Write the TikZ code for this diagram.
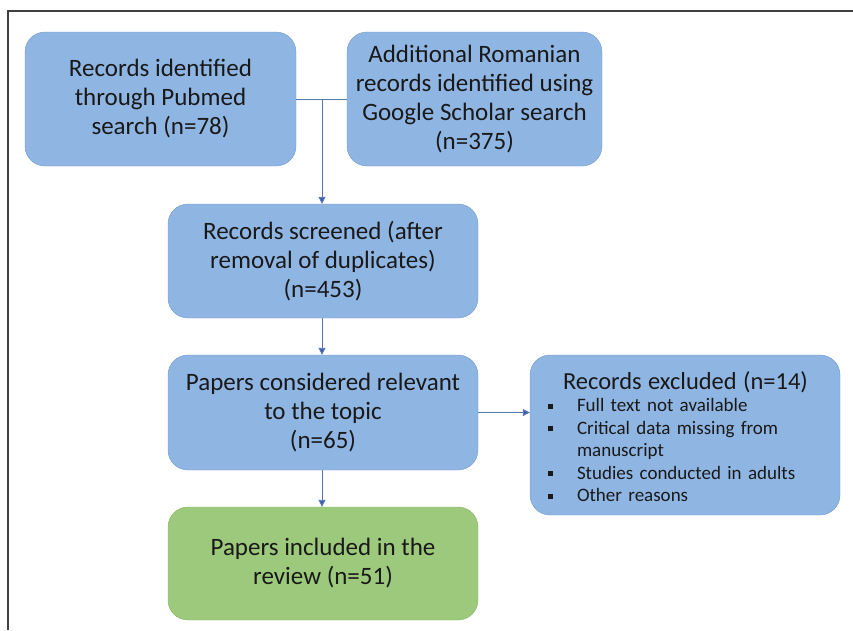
\documentclass[tikz,border=0pt]{standalone}
\usepackage{fontspec}
\setmainfont{Carlito}
\usepackage{amssymb}
\usetikzlibrary{arrows.meta}

\definecolor{boxblue}{HTML}{8FB5E2}
\definecolor{edgeblue}{HTML}{7099CE}
\definecolor{boxgreen}{HTML}{9CC97C}
\definecolor{edgegreen}{HTML}{86B466}
\definecolor{linkblue}{HTML}{5676AE}
\definecolor{tipblue}{HTML}{3F5DB8}

\tikzset{
  stagebox/.style={draw=edgeblue, fill=boxblue, rounded corners=20pt, align=center,
    text=black!90, font=\fontsize{25}{29}\selectfont, inner sep=0pt},
  donebox/.style={stagebox, draw=edgegreen, fill=boxgreen},
  link/.style={draw=linkblue, line width=0.9pt},
  flow/.style={link, -{Triangle[length=7pt,width=7pt,fill=tipblue]}}
}
\newcommand{\bul}{\raisebox{3pt}{\rule{5pt}{5pt}}}

\begin{document}
\begin{tikzpicture}[x=1pt,y=-1pt]
\useasboundingbox (0,0) rectangle (853,630);
\draw[line width=1.5pt, black!75] (8,630) -- (8,11) -- (853,11); % frame

\node[stagebox, minimum width=271pt, minimum height=134pt] (pubmed) at (160.5,99)
  {Records identified\\through Pubmed\\search (n=78)};
\node[stagebox, minimum width=255pt, minimum height=134pt] (romanian) at (474.5,99)
  {Additional Romanian\\records identified using\\Google Scholar search\\(n=375)};
\node[stagebox, minimum width=310pt, minimum height=114pt] (screened) at (323,261)
  {Records screened (after\\removal of duplicates)\\(n=453)};
\node[stagebox, minimum width=310pt, minimum height=115pt] (relevant) at (323,412.5)
  {Papers considered relevant\\to the topic\\(n=65)};
\node[donebox, minimum width=310pt, minimum height=113pt] (included) at (323,563.5)
  {Papers included in the\\review (n=51)};
\node[stagebox, minimum width=310pt, minimum height=160pt, align=left,
  text width=274pt, inner xsep=18pt,
  font=\fontsize{19}{22.5}\selectfont] (excluded) at (685,435)
  {\begin{tabular}{@{}p{29pt}@{}l@{}}
   \multicolumn{2}{@{}l@{}}{\rule{0pt}{28pt}\hspace{15pt}\fontsize{24.5}{26}\selectfont Records excluded (n=14)}\\[0pt]
   \bul & Full text not available\\
   \bul & Critical data missing from\\
        & manuscript\\
   \bul & Studies conducted in adults\\
   \bul & Other reasons
   \end{tabular}};

\coordinate (merge) at (322,99);
\draw[link] (pubmed.east) -- (romanian.west);
\draw[flow] (merge) -- (screened.north -| merge);
\draw[flow] (screened.south -| merge) -- (relevant.north -| merge);
\draw[flow] (relevant.south -| merge) -- (included.north -| merge);
\draw[flow] (relevant.east) -- (relevant.east -| excluded.west);
\end{tikzpicture}
\end{document}
